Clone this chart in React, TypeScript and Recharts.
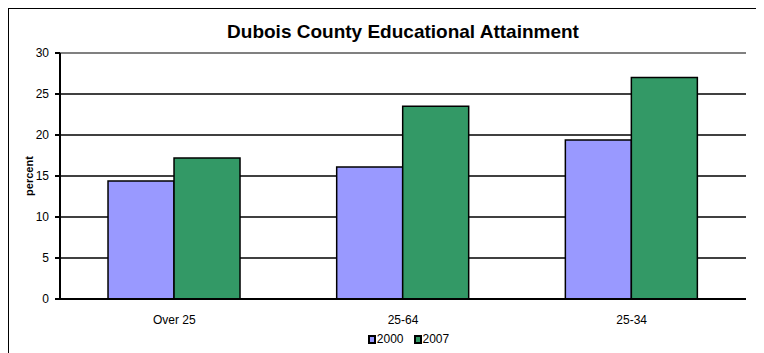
import React from 'react';
import {
  BarChart,
  Bar,
  XAxis,
  YAxis,
  CartesianGrid,
  Legend,
  ReferenceLine
} from 'recharts';

const categories = ['Over 25', '25-64', '25-34'];
const values2000 = [14.4, 16.1, 19.4];
const values2007 = [17.2, 23.5, 27.0];
const yTicks = [0, 5, 10, 15, 20, 25, 30];
const boundaryTicks = [0, 1, 2, 3];

const data = categories.map((name, i) => ({
  name,
  '2000': values2000[i],
  '2007': values2007[i]
}));

const FONT = '"Liberation Sans", Arial, sans-serif';

const renderLegend = (props: any) => {
  const { payload } = props;
  return (
    <div style={{ display: 'flex', justifyContent: 'center', gap: '10px', fontFamily: FONT, fontSize: '12px', color: '#000', paddingLeft: '62px', lineHeight: '16px' }}>
      {payload.map((entry: any, index: number) => (
        <span key={`item-${index}`} style={{ display: 'flex', alignItems: 'center', gap: '1px' }}>
          <span style={{ display: 'inline-block', width: '4px', height: '5px', backgroundColor: entry.color, border: '2px solid #000' }}></span>
          <span>{entry.value}</span>
        </span>
      ))}
    </div>
  );
};

const renderYLabel = (props: any) => {
  const { viewBox } = props;
  const x = viewBox.x + 24;
  const y = viewBox.y + viewBox.height / 2;
  return (
    <text x={x} y={y} transform={`rotate(-90, ${x}, ${y})`} textAnchor="middle" fontWeight="bold" fontSize={11} fontFamily={FONT} fill="#000">
      percent
    </text>
  );
};

export default function App() {
  return (
    <div style={{ position: 'relative', width: 754, height: 352, border: '1px solid #000', background: '#fff', fontFamily: FONT }}>
      <div style={{ position: 'absolute', top: 12, left: 51, width: 686, textAlign: 'center', fontWeight: 'bold', fontSize: '19px', fontFamily: FONT }}>
        Dubois County Educational Attainment
      </div>
      <BarChart
        width={754}
        height={352}
        data={data}
        margin={{ top: 44, right: 17, left: 0, bottom: 14 }}
        barCategoryGap="21%"
        barGap={0}
      >
        <CartesianGrid horizontal={true} vertical={false} stroke="#000" strokeWidth={1.5} />
        <XAxis
          dataKey="name"
          stroke="#000"
          strokeWidth={2}
          tickLine={false}
          tick={{ fill: '#000', fontSize: 12, fontFamily: FONT }}
          tickMargin={10}
          height={32}
        />
        <XAxis
          xAxisId="b"
          type="number"
          domain={[0, 3]}
          ticks={boundaryTicks}
          axisLine={false}
          tick={false}
          tickLine={{ stroke: '#000', strokeWidth: 1.5 }}
          tickSize={4}
          height={0}
        />
        <YAxis
          domain={[0, 30]}
          ticks={yTicks}
          width={51}
          stroke="#000"
          strokeWidth={2}
          tickSize={5}
          tickMargin={6}
          tick={{ fill: '#000', fontSize: 12, fontFamily: FONT }}
          label={{ content: renderYLabel }}
        />
        <YAxis
          yAxisId="r"
          orientation="right"
          domain={[0, 30]}
          width={0}
          tick={false}
          tickLine={false}
          axisLine={{ stroke: '#808080', strokeWidth: 2 }}
        />
        <ReferenceLine y={30} stroke="#808080" strokeWidth={2} />
        <Legend verticalAlign="bottom" height={16} content={renderLegend} />
        <Bar dataKey="2000" fill="#9999FF" stroke="#000" strokeWidth={1.5} isAnimationActive={false} />
        <Bar dataKey="2007" fill="#339966" stroke="#000" strokeWidth={1.5} isAnimationActive={false} />
      </BarChart>
    </div>
  );
}
